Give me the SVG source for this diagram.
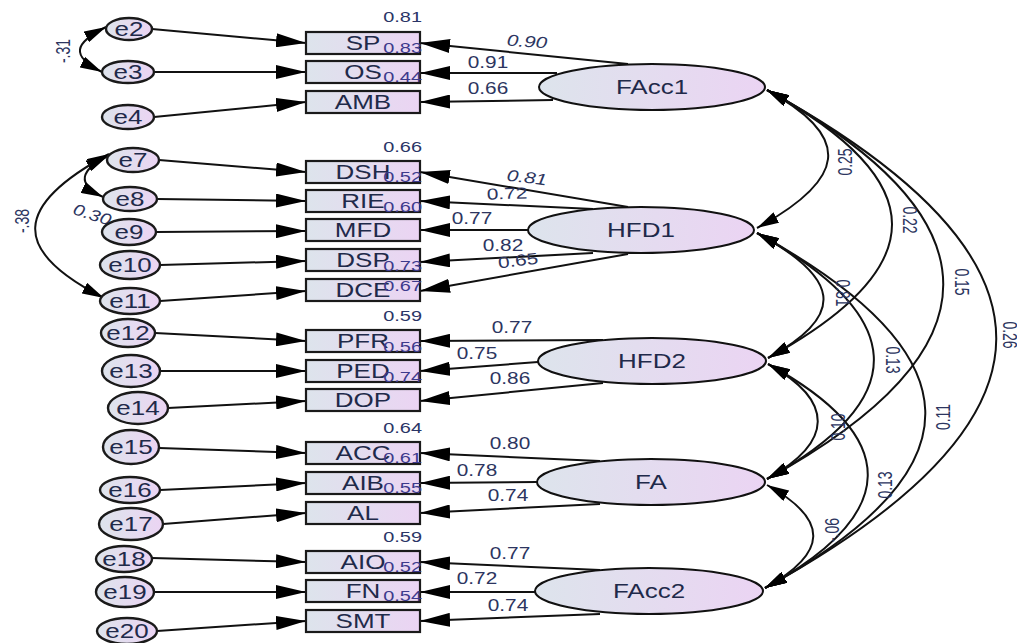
<svg xmlns="http://www.w3.org/2000/svg" width="1017" height="643" viewBox="0 0 1017 643">
<style>
.bg{fill:#fff}
.obs{fill:url(#gr);stroke:#1a1a1a;stroke-width:2.2}
.lat{fill:url(#gr);stroke:#111;stroke-width:2}
.err{fill:url(#gr);stroke:#1a1a1a;stroke-width:2.4}
.nl{font-family:"Liberation Sans",Arial,sans-serif;font-size:20px;fill:#1f2a4a;text-anchor:middle}
.ld{font-family:"Liberation Sans",Arial,sans-serif;font-size:16px;fill:#2c3560;text-anchor:middle}
.r2{font-family:"Liberation Sans",Arial,sans-serif;font-size:15px;fill:#2a3566;text-anchor:end}
.r2b{font-family:"Liberation Sans",Arial,sans-serif;font-size:15px;fill:#3d3a8c;text-anchor:end}
.cv{font-family:"Liberation Sans",Arial,sans-serif;font-size:14px;fill:#2c3560;text-anchor:middle}
.it{font-style:italic}
.ar{fill:none;stroke:#111;stroke-width:2;marker-end:url(#big)}
.cva{fill:none;stroke:#111;stroke-width:2;marker-start:url(#cov);marker-end:url(#cov)}
</style>
<defs>
<linearGradient id="gr" x1="0" y1="0" x2="1" y2="0">
<stop offset="0" stop-color="#dde4ec"/>
<stop offset="1" stop-color="#ebd4f3"/>
</linearGradient>
<marker id="big" markerUnits="userSpaceOnUse" markerWidth="30" markerHeight="14" refX="30" refY="7" orient="auto"><path d="M0,0 L30,7 L0,14 Z" fill="#000"/></marker>
<marker id="cov" markerUnits="userSpaceOnUse" markerWidth="22" markerHeight="12" refX="22" refY="6" orient="auto-start-reverse"><path d="M0,0 L22,6 L0,12 Z" fill="#000"/></marker>
</defs>
<rect class="bg" x="0" y="0" width="1017" height="643"/>

<g id="connectors">
<!-- error to indicator -->
<path class="ar" d="M152,29 L306,43"/>
<path class="ar" d="M154,72 L306,72"/>
<path class="ar" d="M154,117 L306,102"/>
<path class="ar" d="M159,160 L306,172"/>
<path class="ar" d="M157,199 L306,201"/>
<path class="ar" d="M156,232 L306,231"/>
<path class="ar" d="M160,265 L306,261"/>
<path class="ar" d="M160,301 L306,291"/>
<path class="ar" d="M155,333 L306,341"/>
<path class="ar" d="M160,371 L306,371"/>
<path class="ar" d="M168,408 L306,401"/>
<path class="ar" d="M159,448 L306,453"/>
<path class="ar" d="M160,490 L306,483"/>
<path class="ar" d="M163,524 L306,513"/>
<path class="ar" d="M152,558 L306,562"/>
<path class="ar" d="M154,592 L306,592"/>
<path class="ar" d="M157,631 L306,621"/>
<!-- loadings -->
<path class="ar" d="M628,64 L420,43"/>
<path class="ar" d="M557,73 L420,73"/>
<path class="ar" d="M553,100 L420,102"/>
<path class="ar" d="M628,207 L420,172"/>
<path class="ar" d="M593,209 L420,201"/>
<path class="ar" d="M528,230 L420,230"/>
<path class="ar" d="M593,253 L420,262"/>
<path class="ar" d="M628,254 L420,291"/>
<path class="ar" d="M603,340 L420,341"/>
<path class="ar" d="M538,362 L420,371"/>
<path class="ar" d="M603,383 L420,401"/>
<path class="ar" d="M600,461 L420,453"/>
<path class="ar" d="M537,482 L420,483"/>
<path class="ar" d="M600,504 L420,513"/>
<path class="ar" d="M600,570 L420,562"/>
<path class="ar" d="M535,592 L420,592"/>
<path class="ar" d="M600,614 L420,621"/>
<!-- error covariances -->
<path class="cva" d="M106,27 C74,43 70,56 102,72"/>
<path class="cva" d="M108,156 C80,170 76,184 103,197"/>
<path class="cva" d="M109,154 C14,205 9,250 104,298"/>
<!-- factor covariances -->
<path class="cva" d="M767,90 C855,138 845,180 757,228"/>
<path class="cva" d="M767,90 C933,181 934,267 768,358"/>
<path class="cva" d="M767,90 C1002,219 1002,350 767,479"/>
<path class="cva" d="M767,90 C1074,259 1072,419 765,588"/>
<path class="cva" d="M757,233 C838,277 849,314 768,358"/>
<path class="cva" d="M757,233 C906,315 916,397 767,479"/>
<path class="cva" d="M757,233 C976,353 984,468 765,588"/>
<path class="cva" d="M768,364 C835,401 834,442 767,479"/>
<path class="cva" d="M768,364 C903,438 900,514 765,588"/>
<path class="cva" d="M767,485 C830,520 828,553 765,588"/>
</g>

<g id="connector-labels">
<text class="cv" transform="translate(63 51) scale(1.4 1) rotate(-90)" y="5">-.31</text>
<text class="cv" transform="translate(22 221) scale(1.4 1) rotate(-90)" y="5">-.38</text>
<text class="ld it" transform="translate(92 215) rotate(18) scale(1.25 1)" y="5">0.30</text>
<text class="ld it" transform="translate(527 41) rotate(4) scale(1.3 1)" y="6">0.90</text>
<text class="ld" transform="translate(488 62) scale(1.3 1)" y="6">0.91</text>
<text class="ld" transform="translate(488 88) scale(1.3 1)" y="6">0.66</text>
<text class="ld it" transform="translate(527 177) rotate(7) scale(1.3 1)" y="6">0.81</text>
<text class="ld" transform="translate(507 193) rotate(-2) scale(1.3 1)" y="6">0.72</text>
<text class="ld" transform="translate(472 218) scale(1.3 1)" y="6">0.77</text>
<text class="ld" transform="translate(503 245) scale(1.3 1)" y="6">0.82</text>
<text class="ld" transform="translate(518 260) rotate(-7) scale(1.3 1)" y="6">0.65</text>
<text class="ld" transform="translate(512 327) scale(1.3 1)" y="6">0.77</text>
<text class="ld" transform="translate(477 353) scale(1.3 1)" y="6">0.75</text>
<text class="ld" transform="translate(510 378) scale(1.3 1)" y="6">0.86</text>
<text class="ld" transform="translate(510 443) scale(1.3 1)" y="6">0.80</text>
<text class="ld" transform="translate(477 470) scale(1.3 1)" y="6">0.78</text>
<text class="ld" transform="translate(508 495) scale(1.3 1)" y="6">0.74</text>
<text class="ld" transform="translate(510 553) scale(1.3 1)" y="6">0.77</text>
<text class="ld" transform="translate(477 578) scale(1.3 1)" y="6">0.72</text>
<text class="ld" transform="translate(508 605) scale(1.3 1)" y="6">0.74</text>
<text class="cv" transform="translate(845 162) scale(1.4 1) rotate(-90)" y="5">0.25</text>
<text class="cv" transform="translate(910 220) scale(1.4 1) rotate(90)" y="5">0.22</text>
<text class="cv" transform="translate(962 282) scale(1.4 1) rotate(90)" y="5">0.15</text>
<text class="cv" transform="translate(1010 335) scale(1.4 1) rotate(90)" y="5">0.26</text>
<text class="cv" transform="translate(843 293) scale(1.4 1) rotate(90)" y="5">0.81</text>
<text class="cv" transform="translate(893 360) scale(1.4 1) rotate(90)" y="5">0.13</text>
<text class="cv" transform="translate(943 417) scale(1.4 1) rotate(-90)" y="5">0.11</text>
<text class="cv" transform="translate(838 427) scale(1.4 1) rotate(-90)" y="5">0.10</text>
<text class="cv" transform="translate(885 485) scale(1.4 1) rotate(-90)" y="5">0.13</text>
<text class="cv" transform="translate(832 530) scale(1.4 1) rotate(-90)" y="5">-.06</text>
</g>

<!-- error nodes -->
<g id="e2"><ellipse class="err" cx="129" cy="29" rx="23" ry="11"/><text class="nl" transform="translate(129 36) scale(1.3 1)">e2</text></g>
<g id="e3"><ellipse class="err" cx="128" cy="72" rx="26" ry="11"/><text class="nl" transform="translate(128 79) scale(1.3 1)">e3</text></g>
<g id="e4"><ellipse class="err" cx="128" cy="117" rx="26" ry="12"/><text class="nl" transform="translate(128 124) scale(1.3 1)">e4</text></g>
<g id="e7"><ellipse class="err" cx="133" cy="160" rx="26" ry="12"/><text class="nl" transform="translate(133 167) scale(1.3 1)">e7</text></g>
<g id="e8"><ellipse class="err" cx="130" cy="199" rx="27" ry="12"/><text class="nl" transform="translate(130 206) scale(1.3 1)">e8</text></g>
<g id="e9"><ellipse class="err" cx="129" cy="232" rx="27" ry="13"/><text class="nl" transform="translate(129 239) scale(1.3 1)">e9</text></g>
<g id="e10"><ellipse class="err" cx="130" cy="265" rx="30" ry="14"/><text class="nl" transform="translate(130 272) scale(1.3 1)">e10</text></g>
<g id="e11"><ellipse class="err" cx="130" cy="301" rx="30" ry="13"/><text class="nl" transform="translate(130 308) scale(1.3 1)">e11</text></g>
<g id="e12"><ellipse class="err" cx="128" cy="333" rx="27" ry="14"/><text class="nl" transform="translate(128 340) scale(1.3 1)">e12</text></g>
<g id="e13"><ellipse class="err" cx="131" cy="371" rx="29" ry="16"/><text class="nl" transform="translate(131 378) scale(1.3 1)">e13</text></g>
<g id="e14"><ellipse class="err" cx="138" cy="408" rx="30" ry="16"/><text class="nl" transform="translate(138 415) scale(1.3 1)">e14</text></g>
<g id="e15"><ellipse class="err" cx="131" cy="447" rx="28" ry="17"/><text class="nl" transform="translate(131 454) scale(1.3 1)">e15</text></g>
<g id="e16"><ellipse class="err" cx="130" cy="490" rx="30" ry="13"/><text class="nl" transform="translate(130 497) scale(1.3 1)">e16</text></g>
<g id="e17"><ellipse class="err" cx="131" cy="524" rx="32" ry="16"/><text class="nl" transform="translate(131 531) scale(1.3 1)">e17</text></g>
<g id="e18"><ellipse class="err" cx="124" cy="559" rx="28" ry="13"/><text class="nl" transform="translate(124 566) scale(1.3 1)">e18</text></g>
<g id="e19"><ellipse class="err" cx="125" cy="592" rx="29" ry="15"/><text class="nl" transform="translate(125 599) scale(1.3 1)">e19</text></g>
<g id="e20"><ellipse class="err" cx="127" cy="631" rx="30" ry="13"/><text class="nl" transform="translate(127 638) scale(1.3 1)">e20</text></g>

<!-- observed -->
<g id="SP"><rect class="obs" x="306" y="32" width="114" height="22"/><text class="nl" transform="translate(363 50) scale(1.3 1)">SP</text><text class="r2" transform="translate(422 22) scale(1.33 1)">0.81</text><text class="r2b" transform="translate(422 53) scale(1.33 1)">0.83</text></g>
<g id="OS"><rect class="obs" x="306" y="61" width="114" height="22"/><text class="nl" transform="translate(363 79) scale(1.3 1)">OS</text><text class="r2b" transform="translate(422 82) scale(1.33 1)">0.44</text></g>
<g id="AMB"><rect class="obs" x="306" y="91" width="114" height="22"/><text class="nl" transform="translate(363 109) scale(1.3 1)">AMB</text></g>
<g id="DSH"><rect class="obs" x="306" y="161" width="114" height="22"/><text class="nl" transform="translate(363 179) scale(1.3 1)">DSH</text><text class="r2" transform="translate(422 152) scale(1.33 1)">0.66</text><text class="r2b" transform="translate(422 182) scale(1.33 1)">0.52</text></g>
<g id="RIE"><rect class="obs" x="306" y="190" width="114" height="22"/><text class="nl" transform="translate(363 208) scale(1.3 1)">RIE</text><text class="r2b" transform="translate(422 212) scale(1.33 1)">0.60</text></g>
<g id="MFD"><rect class="obs" x="306" y="219" width="114" height="22"/><text class="nl" transform="translate(363 237) scale(1.3 1)">MFD</text></g>
<g id="DSP"><rect class="obs" x="306" y="249" width="114" height="22"/><text class="nl" transform="translate(363 267) scale(1.3 1)">DSP</text><text class="r2b" transform="translate(422 271) scale(1.33 1)">0.73</text></g>
<g id="DCE"><rect class="obs" x="306" y="279" width="114" height="22"/><text class="nl" transform="translate(363 297) scale(1.3 1)">DCE</text><text class="r2b" transform="translate(422 291) scale(1.33 1)">0.67</text></g>
<g id="PFR"><rect class="obs" x="306" y="330" width="114" height="22"/><text class="nl" transform="translate(363 348) scale(1.3 1)">PFR</text><text class="r2" transform="translate(422 321) scale(1.33 1)">0.59</text><text class="r2b" transform="translate(422 352) scale(1.33 1)">0.56</text></g>
<g id="PED"><rect class="obs" x="306" y="360" width="114" height="22"/><text class="nl" transform="translate(363 378) scale(1.3 1)">PED</text><text class="r2b" transform="translate(422 382) scale(1.33 1)">0.74</text></g>
<g id="DOP"><rect class="obs" x="306" y="389" width="114" height="22"/><text class="nl" transform="translate(363 407) scale(1.3 1)">DOP</text></g>
<g id="ACC"><rect class="obs" x="306" y="442" width="114" height="22"/><text class="nl" transform="translate(363 460) scale(1.3 1)">ACC</text><text class="r2" transform="translate(422 433) scale(1.33 1)">0.64</text><text class="r2b" transform="translate(422 463) scale(1.33 1)">0.61</text></g>
<g id="AIB"><rect class="obs" x="306" y="472" width="114" height="22"/><text class="nl" transform="translate(363 490) scale(1.3 1)">AIB</text><text class="r2b" transform="translate(422 493) scale(1.33 1)">0.55</text></g>
<g id="AL"><rect class="obs" x="306" y="502" width="114" height="22"/><text class="nl" transform="translate(363 520) scale(1.3 1)">AL</text></g>
<g id="AIO"><rect class="obs" x="306" y="551" width="114" height="22"/><text class="nl" transform="translate(363 569) scale(1.3 1)">AIO</text><text class="r2" transform="translate(422 542) scale(1.33 1)">0.59</text><text class="r2b" transform="translate(422 572) scale(1.33 1)">0.52</text></g>
<g id="FN"><rect class="obs" x="306" y="580" width="114" height="22"/><text class="nl" transform="translate(363 598) scale(1.3 1)">FN</text><text class="r2b" transform="translate(422 601) scale(1.33 1)">0.54</text></g>
<g id="SMT"><rect class="obs" x="306" y="610" width="114" height="22"/><text class="nl" transform="translate(363 628) scale(1.3 1)">SMT</text></g>

<!-- latent -->
<g id="FAcc1"><ellipse class="lat" cx="652" cy="87" rx="113" ry="23"/><text class="nl" transform="translate(652 94) scale(1.3 1)">FAcc1</text></g>
<g id="HFD1"><ellipse class="lat" cx="641" cy="230" rx="113" ry="23"/><text class="nl" transform="translate(641 237) scale(1.3 1)">HFD1</text></g>
<g id="HFD2"><ellipse class="lat" cx="652" cy="361" rx="114" ry="23"/><text class="nl" transform="translate(652 368) scale(1.3 1)">HFD2</text></g>
<g id="FA"><ellipse class="lat" cx="651" cy="482" rx="114" ry="23"/><text class="nl" transform="translate(651 489) scale(1.3 1)">FA</text></g>
<g id="FAcc2"><ellipse class="lat" cx="649" cy="591" rx="114" ry="23"/><text class="nl" transform="translate(649 598) scale(1.3 1)">FAcc2</text></g>
</svg>
